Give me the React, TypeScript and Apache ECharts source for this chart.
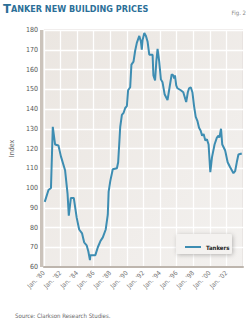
import React, { useEffect, useRef } from "react";
import * as echarts from "echarts";

const years: number[] = [
  1980.1, 1980.55, 1980.85, 1981.07, 1981.35, 1981.75, 1982.05, 1982.55, 1982.85, 1983.0,
  1983.25, 1983.6, 1983.95, 1984.25, 1984.6, 1984.85, 1985.15, 1985.35, 1985.55, 1985.6,
  1986.2, 1986.5, 1986.8, 1987.1, 1987.45, 1987.7, 1987.8, 1988.0, 1988.3, 1988.8,
  1988.95, 1989.2, 1989.4, 1989.6, 1989.8, 1990.0, 1990.15, 1990.4, 1990.55, 1990.8,
  1991.0, 1991.2, 1991.5, 1991.7, 1991.8, 1991.9, 1992.1, 1992.3, 1992.5, 1992.7,
  1993.1, 1993.2, 1993.4, 1993.55, 1993.7, 1993.9, 1994.1, 1994.3, 1994.55, 1994.9,
  1995.15, 1995.4, 1995.6, 1995.7, 1995.8, 1995.95, 1996.1, 1996.5, 1996.8, 1997.15,
  1997.35, 1997.5, 1997.7, 1997.9, 1998.1, 1998.3, 1998.5, 1998.7, 1998.9, 1999.07,
  1999.25, 1999.46, 1999.65, 1999.85, 2000.06, 2000.26, 2000.57, 2000.85, 2001.05, 2001.15,
  2001.35, 2001.5, 2001.85, 2002.15, 2002.45, 2002.85, 2003.05, 2003.25, 2003.45, 2003.85,
];

const tankers: number[] = [
  93, 99, 100, 131, 122, 121.5, 116, 109, 97, 86,
  95, 95, 85, 79, 77, 72.5, 71, 68, 63.5, 66,
  66, 70, 73, 75, 79, 86.5, 98, 103.5, 109.5, 110,
  113, 131, 137, 138, 140.5, 141.5, 149.5, 151, 162.5, 164,
  169.5, 173.5, 177, 174, 170, 175, 178.5, 177, 174, 167.5,
  167.5, 157, 154.5, 164, 170.5, 164, 155, 153.5, 147.5, 144.5,
  151, 157.5, 157, 155.5, 157, 152, 150.5, 149.5, 148.5, 143.5,
  148.5, 150.5, 151, 148.5, 141.5, 136, 134, 130.5, 129, 126.5,
  127.3, 124, 124.7, 122, 108, 115.5, 122, 125.5, 126.5, 125.5,
  130, 122, 119, 113, 110.5, 107.5, 108.5, 113, 117, 117.5,
];

const yTicks: number[] = [60, 70, 80, 90, 100, 110, 120, 130, 140, 150, 160, 170, 180];
const xTickYears: number[] = [1980, 1982, 1984, 1986, 1988, 1990, 1992, 1994, 1996, 1998, 2000, 2002];

const title = "TANKER NEW BUILDING PRICES";
const figLabel = "Fig. 2";
const seriesName = "Tankers";
const yAxisName = "Index";
const source = "Source: Clarkson Research Studies.";

export default function App() {
  const ref = useRef<HTMLDivElement>(null);
  useEffect(() => {
    if (!ref.current) return;
    const chart = echarts.init(ref.current, null, { renderer: "svg" });
    const lineColor = "#3d8db2";
    const cond = "DejaVu Sans Condensed";
    chart.setOption({
      animation: false,
      backgroundColor: "#ffffff",
      textStyle: { fontFamily: "Liberation Sans" },
      graphic: [
        {
          type: "text",
          left: 3,
          top: 2,
          style: {
            text: "{a|" + title.charAt(0) + "}{b|" + title.slice(1) + "}",
            rich: {
              a: { fontSize: 13, fontWeight: "bold", fill: "#2c6f98", fontFamily: cond },
              b: { fontSize: 9, fontWeight: "bold", fill: "#2c6f98", fontFamily: cond },
            },
          },
        },
        {
          type: "text",
          right: 4,
          top: 9,
          style: { text: figLabel, fontSize: 6, fill: "#888", fontFamily: cond },
        },
        {
          type: "text",
          left: 15,
          top: 312,
          style: { text: source, fontSize: 6, fill: "#666", fontFamily: cond },
        },
        {
          type: "rect",
          shape: { x: 40, y: 30, width: 3, height: 237 },
          style: { fill: "#cbc3bb" },
          z: 10,
        },
        {
          type: "rect",
          shape: { x: 176, y: 234, width: 56, height: 20, r: 2 },
          style: { fill: "#f4f2f0", shadowBlur: 4, shadowColor: "rgba(0,0,0,0.25)", shadowOffsetX: 1, shadowOffsetY: 1 },
          z: 20,
        },
      ],
      grid: {
        left: 42,
        right: 7,
        top: 30,
        bottom: 54,
        show: true,
        borderColor: "#d8d3ce",
        borderWidth: 1,
        backgroundColor: new echarts.graphic.LinearGradient(0, 0, 1, 1, [
          { offset: 0, color: "#ebe6e1" },
          { offset: 1, color: "#f3f1ef" },
        ]),
      },
      legend: {
        data: [seriesName],
        left: 180,
        top: 239,
        itemWidth: 16,
        itemHeight: 2,
        itemGap: 5,
        icon: "rect",
        textStyle: { fontSize: 6, fontWeight: "bold", color: "#222", fontFamily: cond },
        z: 30,
      },
      xAxis: {
        type: "value",
        min: 1980,
        max: 2004,
        interval: 2,
        axisLine: { show: true, lineStyle: { color: "#bdb5ad", width: 2 } },
        axisTick: { show: false },
        splitLine: { show: true, lineStyle: { color: "#ffffff", width: 1.3 } },
        axisLabel: {
          rotate: 45,
          fontSize: 6.5,
          color: "#777",
          margin: 5,
          fontFamily: cond,
          formatter: (v: number) =>
            xTickYears.indexOf(v) >= 0 ? "Jan. '" + String(v).slice(2) : "",
        },
      },
      yAxis: {
        type: "value",
        min: yTicks[0],
        max: yTicks[yTicks.length - 1],
        interval: 10,
        name: yAxisName,
        nameLocation: "middle",
        nameGap: 21,
        nameTextStyle: { fontSize: 7, color: "#666", fontFamily: cond },
        axisLine: { show: false },
        axisTick: { show: false },
        splitLine: { show: true, lineStyle: { color: "#ffffff", width: 1.3 } },
        axisLabel: { fontSize: 7, color: "#555", margin: 6, fontFamily: cond },
      },
      series: [
        {
          name: seriesName,
          type: "line",
          data: years.map((y, i) => [y, tankers[i]]),
          symbol: "none",
          lineStyle: { color: lineColor, width: 2 },
          itemStyle: { color: lineColor },
          z: 5,
        },
      ],
    });
    return () => chart.dispose();
  }, []);
  return <div ref={ref} style={{ position: "fixed", left: 0, top: 0, width: 250, height: 321 }} />;
}
